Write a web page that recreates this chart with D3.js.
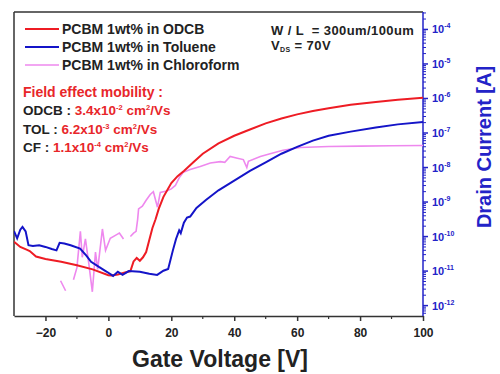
<!DOCTYPE html>
<html>
<head>
<meta charset="utf-8">
<script src="https://cdn.jsdelivr.net/npm/d3@7"></script>
<style>
  body { margin: 0; background: #fff; }
  text { font-family: Arial, "Liberation Sans", sans-serif; font-weight: bold; }
</style>
</head>
<body>
<div id="chart"></div>
<script>
// gate voltage [V] and log10 of drain current [A]
var odcbData = [
  [-30,-10.15],[-28,-10.3],[-26,-10.38],[-25,-10.42],[-23,-10.58],[-20,-10.65],[-15,-10.73],
  [-10,-10.83],[-5,-10.95],[0,-11.12],[1,-11.13],[3,-11.1],[5,-11.05],[7,-11.0],[8,-10.72],
  [9,-10.62],[10,-10.7],[11,-10.6],[12,-10.45],[13,-10.1],[14,-9.75],[15,-9.5],[16,-9.2],
  [17.5,-8.85],[20,-8.45],[22,-8.25],[24,-8.1],[27,-7.85],[30,-7.6],[35,-7.3],[40,-7.08],
  [45,-6.9],[50,-6.72],[55,-6.58],[60,-6.46],[65,-6.36],[70,-6.28],[77,-6.18],[85,-6.1],
  [92,-6.04],[100,-5.98]
];
var tolData = [
  [-30,-9.84],[-29,-10.05],[-28,-9.8],[-27.3,-9.72],[-26.3,-9.85],[-25.4,-10.25],[-24,-10.27],
  [-22,-10.25],[-20,-10.3],[-18,-10.36],[-16.5,-10.4],[-15.5,-10.18],[-14,-10.2],[-12,-10.25],
  [-9,-10.35],[-7,-10.55],[-5.5,-10.73],[-3,-10.88],[-0.5,-11.02],[1.5,-11.14],[3,-11.02],
  [4.5,-11.11],[6.5,-11.0],[10,-11.02],[13,-11.08],[15.5,-11.11],[17.5,-10.99],[19,-10.94],
  [20.5,-10.4],[21.5,-10.07],[22.5,-9.82],[23,-9.9],[24,-9.6],[25,-9.45],[26,-9.42],[28,-9.17],
  [31,-8.94],[35,-8.66],[40,-8.38],[45,-8.1],[50,-7.85],[55,-7.6],[60,-7.4],[65,-7.22],
  [70,-7.08],[77,-6.96],[85,-6.84],[92,-6.75],[100,-6.68]
];
// null = gap in the measured trace
var cfData = [
  [-15.2,-11.28],[-13.6,-11.57],null,
  [-11.1,-11.25],[-10,-10.9],[-8.9,-9.85],[-8.3,-10.6],[-7.3,-10.07],[-6.2,-10.8],[-5.1,-11.6],
  [-4.1,-10.45],[-3.4,-10.95],[-1.9,-9.78],[-0.9,-10.4],[0.6,-10.05],[2.5,-9.95],[3.5,-9.9],
  [4.8,-10.07],null,
  [7,-10.0],[8,-9.9],[8.8,-9.85],[9.3,-9.5],[9.6,-9.2],[10.8,-9.12],[12,-8.95],[13.3,-8.78],
  [14.3,-8.7],[15.6,-9.15],[16.5,-8.72],[18.5,-8.68],[20,-8.62],[21.3,-8.52],[22.5,-8.3],
  [23.8,-8.14],[26,-8.06],[29.2,-7.97],[32.4,-7.87],[35.6,-7.83],[37,-7.85],[38.7,-7.68],
  [41,-7.73],[42.9,-7.77],[44,-8.0],[44.5,-7.82],[48.3,-7.68],[51.4,-7.6],[55.5,-7.5],
  [61,-7.42],[70,-7.39],[80,-7.38],[90,-7.37],[100,-7.36]
];

var legendNames = ["PCBM 1wt% in ODCB", "PCBM 1wt% in Toluene", "PCBM 1wt% in Chloroform"];
var seriesColors = ["#ee1c24", "#1414c8", "#ee88ee"];
var xTicks = [-20, 0, 20, 40, 60, 80, 100];
var yExponents = [-4, -5, -6, -7, -8, -9, -10, -11, -12];
var mobility = [["ODCB : ", "3.4x10", "-2"], ["TOL : ", "6.2x10", "-3"], ["CF : ", "1.1x10", "-4"]];

function init(){
  var w = 500, h = 374;
  var left = 14, right = 423, top = 12, bottom = 316;
  var axisBlue = "#2323c8";

  var svg = d3.select("#chart").append("svg")
      .attr("width", w).attr("height", h);

  var x = d3.scaleLinear().domain([-30, 100]).range([left, right]);
  var y = d3.scaleLog().domain([5e-13, 3.2e-4]).range([bottom, top]);

  svg.append("clipPath").attr("id", "clip")
    .append("rect").attr("x", left).attr("y", top)
    .attr("width", right - left).attr("height", bottom - top);

  // frame: top and left black
  svg.append("line").attr("x1", left).attr("x2", right).attr("y1", top).attr("y2", top)
    .attr("stroke", "#333").attr("stroke-width", 1.5);
  svg.append("line").attr("x1", left).attr("x2", left).attr("y1", top).attr("y2", bottom)
    .attr("stroke", "#333").attr("stroke-width", 1.5);

  // bottom axis
  var xAxis = svg.append("g").attr("transform", "translate(0," + bottom + ")")
    .call(d3.axisBottom(x).tickValues(xTicks).tickSize(5).tickSizeOuter(0).tickFormat(d3.format("d")));
  xAxis.select(".domain").attr("stroke", "#333").attr("stroke-width", 1.5);
  xAxis.selectAll(".tick line").attr("stroke", "#333").attr("stroke-width", 1.5);
  xAxis.selectAll(".tick text").attr("font-size", 12).attr("font-weight", "bold")
    .attr("fill", "#222").attr("dy", "1.1em")
    .style("font-family", "Arial, 'Liberation Sans', sans-serif");
  // minor x ticks
  svg.append("g").selectAll("line")
    .data(d3.range(-10, 100, 20))
    .enter().append("line")
      .attr("x1", function(d){ return x(d); }).attr("x2", function(d){ return x(d); })
      .attr("y1", bottom).attr("y2", bottom + 3)
      .attr("stroke", "#333").attr("stroke-width", 1.2);

  // right axis (blue, log)
  var yAxis = svg.append("g").attr("transform", "translate(" + right + ",0)");
  yAxis.append("line").attr("x1", 0).attr("x2", 0).attr("y1", top).attr("y2", bottom)
    .attr("stroke", axisBlue).attr("stroke-width", 1.5);
  var minor = [];
  for (var e = -13; e <= -4; e++) {
    for (var k = 2; k <= 9; k++) {
      var v = k * Math.pow(10, e);
      if (v > 5e-13 && v < 3.2e-4) minor.push(v);
    }
  }
  yAxis.selectAll(".minor").data(minor).enter().append("line")
    .attr("class", "minor")
    .attr("x1", 0).attr("x2", 3)
    .attr("y1", function(d){ return y(d); }).attr("y2", function(d){ return y(d); })
    .attr("stroke", axisBlue).attr("stroke-width", 1);
  yAxis.selectAll(".major").data(yExponents).enter().append("line")
    .attr("class", "major")
    .attr("x1", 0).attr("x2", 5)
    .attr("y1", function(d){ return y(Math.pow(10, d)); }).attr("y2", function(d){ return y(Math.pow(10, d)); })
    .attr("stroke", axisBlue).attr("stroke-width", 1.5);
  var yLab = yAxis.selectAll(".lab").data(yExponents).enter().append("text")
    .attr("class", "lab")
    .attr("x", 9).attr("y", function(d){ return y(Math.pow(10, d)) + 4; })
    .attr("fill", axisBlue).attr("font-size", 11);
  yLab.append("tspan").text("10");
  yLab.append("tspan").attr("dy", -5).attr("font-size", 7).text(function(d){ return d; });

  // axis titles
  svg.append("text").attr("x", 220).attr("y", 367).attr("text-anchor", "middle")
    .attr("font-size", 23).attr("fill", "#222").text("Gate Voltage [V]");
  svg.append("text").attr("transform", "translate(491,147) rotate(-90)")
    .attr("text-anchor", "middle").attr("font-size", 20).attr("fill", axisBlue)
    .text("Drain Current [A]");

  // curves
  var line = d3.line()
    .defined(function(d){ return d !== null; })
    .x(function(d){ return x(d[0]); })
    .y(function(d){ return y(Math.pow(10, d[1])); });
  var plot = svg.append("g").attr("clip-path", "url(#clip)");
  plot.append("path").datum(cfData).attr("d", line)
    .attr("fill", "none").attr("stroke", seriesColors[2]).attr("stroke-width", 1.6);
  plot.append("path").datum(odcbData).attr("d", line)
    .attr("fill", "none").attr("stroke", seriesColors[0]).attr("stroke-width", 2);
  plot.append("path").datum(tolData).attr("d", line)
    .attr("fill", "none").attr("stroke", seriesColors[1]).attr("stroke-width", 2);

  // legend
  var leg = svg.append("g").selectAll("g").data(legendNames).enter().append("g")
    .attr("transform", function(d, i){ return "translate(25," + (29 + i * 18) + ")"; });
  leg.append("line").attr("x1", 0).attr("x2", 34).attr("y1", 0).attr("y2", 0)
    .attr("stroke", function(d, i){ return seriesColors[i]; })
    .attr("stroke-width", function(d, i){ return i == 2 ? 1.6 : 2; });
  leg.append("text").attr("x", 37).attr("y", 5).attr("font-size", 14)
    .attr("fill", "#222").text(function(d){ return d; });

  // mobility box
  svg.append("text").attr("x", 23).attr("y", 97).attr("font-size", 14)
    .attr("fill", "#e8262a").text("Field effect mobility :");
  var mob = svg.append("g").selectAll("text").data(mobility).enter().append("text")
    .attr("x", 23).attr("y", function(d, i){ return 115 + i * 18.5; })
    .attr("font-size", 13.5).attr("fill", "#e8262a");
  mob.append("tspan").attr("fill", "#222").text(function(d){ return d[0]; });
  mob.append("tspan").text(function(d){ return d[1]; });
  mob.append("tspan").attr("dy", -5).attr("font-size", 7.5).text(function(d){ return d[2]; });
  mob.append("tspan").attr("dy", 5).text(" cm");
  mob.append("tspan").attr("dy", -5).attr("font-size", 7.5).text("2");
  mob.append("tspan").attr("dy", 5).text("/Vs");

  // device info
  svg.append("text").attr("x", 271).attr("y", 35).attr("font-size", 13)
    .attr("letter-spacing", 0.4)
    .attr("fill", "#222").attr("xml:space", "preserve").text("W / L  = 300um/100um");
  var vds = svg.append("text").attr("x", 271).attr("y", 50).attr("font-size", 13)
    .attr("letter-spacing", 0.4).attr("fill", "#222");
  vds.append("tspan").text("V");
  vds.append("tspan").attr("dy", 2).attr("font-size", 7).text("DS");
  vds.append("tspan").attr("dy", -2).text(" = 70V");
}
window.onload = init;
</script>
</body>
</html>
